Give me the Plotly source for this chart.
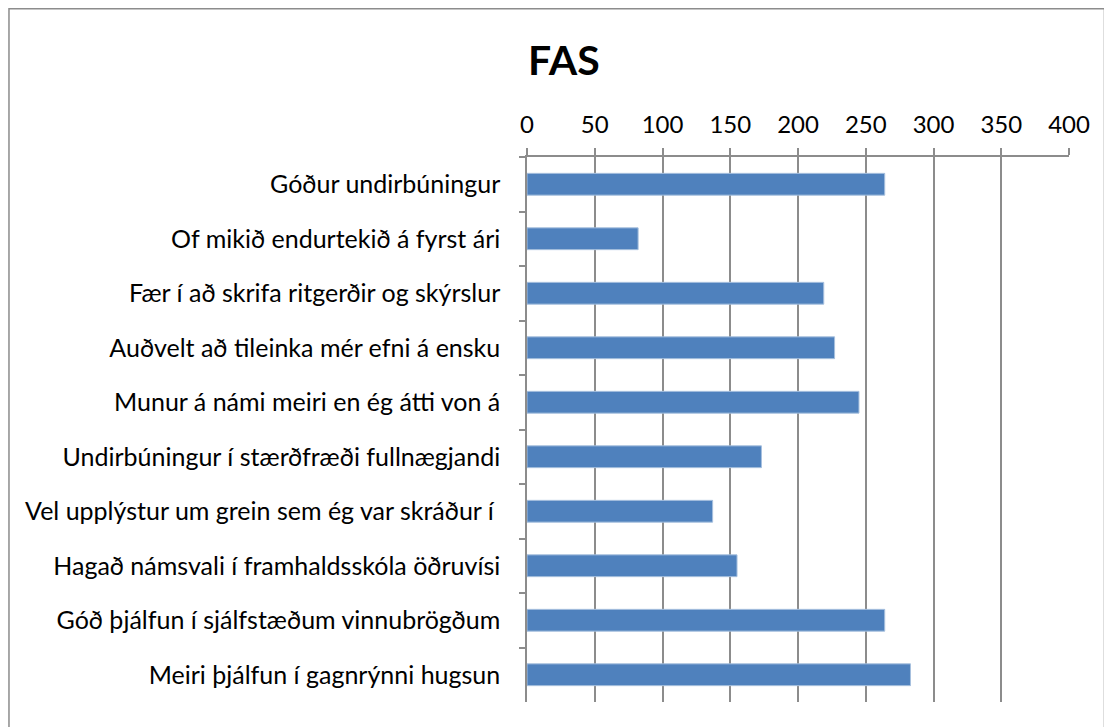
import plotly.graph_objects as go

categories = [
    "Góður undirbúningur",
    "Of mikið endurtekið á fyrst ári",
    "Fær í að skrifa ritgerðir og skýrslur",
    "Auðvelt að tileinka mér efni á ensku",
    "Munur á námi meiri en ég átti von á",
    "Undirbúningur í stærðfræði fullnægjandi",
    "Vel upplýstur um grein sem ég var skráður í ",
    "Hagað námsvali í framhaldsskóla öðruvísi",
    "Góð þjálfun í sjálfstæðum vinnubrögðum",
    "Meiri þjálfun í gagnrýnni hugsun",
]
values = [264, 82, 219, 227, 245, 173, 137, 155, 264, 283]
x_ticks = [0, 50, 100, 150, 200, 250, 300, 350, 400]
title_text = "FAS"

FONT = "Lato"
GRID = "#8c8c8c"

# page body has an 8px margin; figure is sized to fit the window
W, H = 1104, 719
PL, PR, PT, PB = 526.5, 1069, 156.5, 702.5  # plot area in page pixels
OFF = 8
ml = PL - OFF
mt = PT - OFF
pw = PR - PL
ph = PB - PT
mr = W - ml - pw
mb = H - mt - ph


def px(xp):
    return (xp - PL) / pw


def py(yp):
    return (PB - yp) / ph


fig = go.Figure(
    go.Bar(
        x=values,
        y=categories,
        orientation="h",
        width=0.4,
        marker=dict(color="#4F81BD", line=dict(color="#A7C0DE", width=1)),
        hoverinfo="x+y",
    )
)

fig.update_layout(
    width=W,
    height=H,
    paper_bgcolor="white",
    plot_bgcolor="white",
    showlegend=False,
    margin=dict(l=ml, r=mr, t=mt, b=mb, autoexpand=False),
    font=dict(family=FONT, color="#000000"),
    annotations=[
        dict(
            text="<b>" + title_text + "</b>",
            x=px(564),
            y=py(58.5),
            xref="paper",
            yref="paper",
            yanchor="middle",
            xanchor="center",
            showarrow=False,
            font=dict(family=FONT, size=41, color="#000000"),
        )
    ],
    shapes=[
        dict(
            type="rect",
            xref="paper",
            yref="paper",
            x0=px(8),
            x1=px(1104.5),
            y0=py(760),
            y1=py(8),
            line=dict(color=GRID, width=1.5),
            fillcolor="rgba(0,0,0,0)",
            layer="below",
        )
    ],
)

fig.update_xaxes(
    side="top",
    range=[0, 400],
    tickvals=x_ticks,
    ticktext=[str(v) for v in x_ticks],
    showgrid=True,
    gridcolor=GRID,
    gridwidth=1.5,
    showline=True,
    linecolor=GRID,
    linewidth=1.5,
    ticks="outside",
    ticklen=7,
    tickcolor=GRID,
    tickwidth=1.5,
    tickfont=dict(family=FONT, size=24, color="#000000"),
    ticklabelstandoff=6,
    zeroline=False,
    fixedrange=True,
)

fig.update_yaxes(
    autorange="reversed",
    type="category",
    showline=True,
    linecolor=GRID,
    linewidth=1.5,
    ticks="outside",
    tickson="boundaries",
    ticklen=6,
    tickcolor=GRID,
    tickwidth=1.5,
    showgrid=False,
    tickfont=dict(family=FONT, size=25, color="#000000"),
    ticklabelstandoff=20,
    fixedrange=True,
)

fig.write_html("out.html")
